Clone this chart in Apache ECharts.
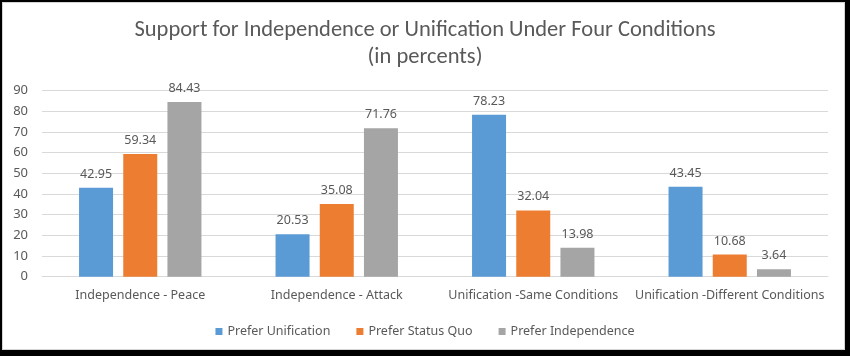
<!DOCTYPE html>
<html>
<head>
<meta charset="utf-8">
<script src="https://cdn.jsdelivr.net/npm/echarts@6/dist/echarts.min.js"></script>
<style>
html,body{margin:0;padding:0;background:#000;width:850px;height:356px;overflow:hidden;}
#frame{position:absolute;left:2px;top:2px;width:843px;height:348px;background:#fff;border:1px solid #d4d4d4;box-sizing:border-box;}
#main{position:absolute;left:0;top:0;width:850px;height:356px;}
</style>
</head>
<body>
<div id="frame"></div>
<div id="main"></div>
<script>
const categories = ['Independence - Peace', 'Independence - Attack', 'Unification -Same Conditions', 'Unification -Different Conditions'];
const seriesNames = ['Prefer Unification', 'Prefer Status Quo', 'Prefer Independence'];
const preferUnification = [42.95, 20.53, 78.23, 43.45];
const preferStatusQuo = [59.34, 35.08, 32.04, 10.68];
const preferIndependence = [84.43, 71.76, 13.98, 3.64];
const yTicks = [0, 10, 20, 30, 40, 50, 60, 70, 80, 90];
const colors = ['#5B9BD5', '#ED7D31', '#A5A5A5'];

const TFONT = 'Carlito, "Liberation Sans Narrow", sans-serif';
const FONT = '"Noto Sans", "DejaVu Sans", sans-serif';
const chart = echarts.init(document.getElementById('main'), null, {renderer: 'canvas'});
const mk = (name, data, color) => ({
  name, type: 'bar', data, barWidth: 34, barGap: '30%',
  itemStyle: {color},
  label: {show: true, position: 'top', distance: 7, color: '#595959', fontSize: 12.5, fontFamily: FONT,
    formatter: p => p.value.toFixed(2)}
});
chart.setOption({
  backgroundColor: 'transparent',
  animation: false,
  color: colors,
  title: {
    text: 'Support for Independence or Unification Under Four Conditions\n(in percents)',
    left: 'center', top: 12,
    textStyle: {color: '#595959', fontSize: 22.5, fontWeight: 'normal', fontFamily: TFONT, lineHeight: 27}
  },
  legend: {
    top: 320, left: 'center', icon: 'rect', itemWidth: 7, itemHeight: 7, itemGap: 26,
    textStyle: {color: '#595959', fontSize: 12.5, fontFamily: FONT},
    data: seriesNames
  },
  grid: {left: 42, right: 22, top: 90.5, bottom: 79.3},
  xAxis: {
    type: 'category', data: categories,
    axisLine: {show: true, lineStyle: {color: '#d9d9d9'}},
    axisTick: {show: false},
    axisLabel: {color: '#595959', fontSize: 12.5, fontFamily: FONT, margin: 12, interval: 0}
  },
  yAxis: {
    type: 'value', min: yTicks[0], max: yTicks[yTicks.length - 1], interval: yTicks[1] - yTicks[0],
    axisLine: {show: false}, axisTick: {show: false},
    axisLabel: {color: '#595959', fontSize: 13, fontFamily: FONT, margin: 14},
    splitLine: {lineStyle: {color: '#d9d9d9'}}
  },
  series: [
    mk(seriesNames[0], preferUnification, colors[0]),
    mk(seriesNames[1], preferStatusQuo, colors[1]),
    mk(seriesNames[2], preferIndependence, colors[2])
  ]
});
</script>
</body>
</html>
